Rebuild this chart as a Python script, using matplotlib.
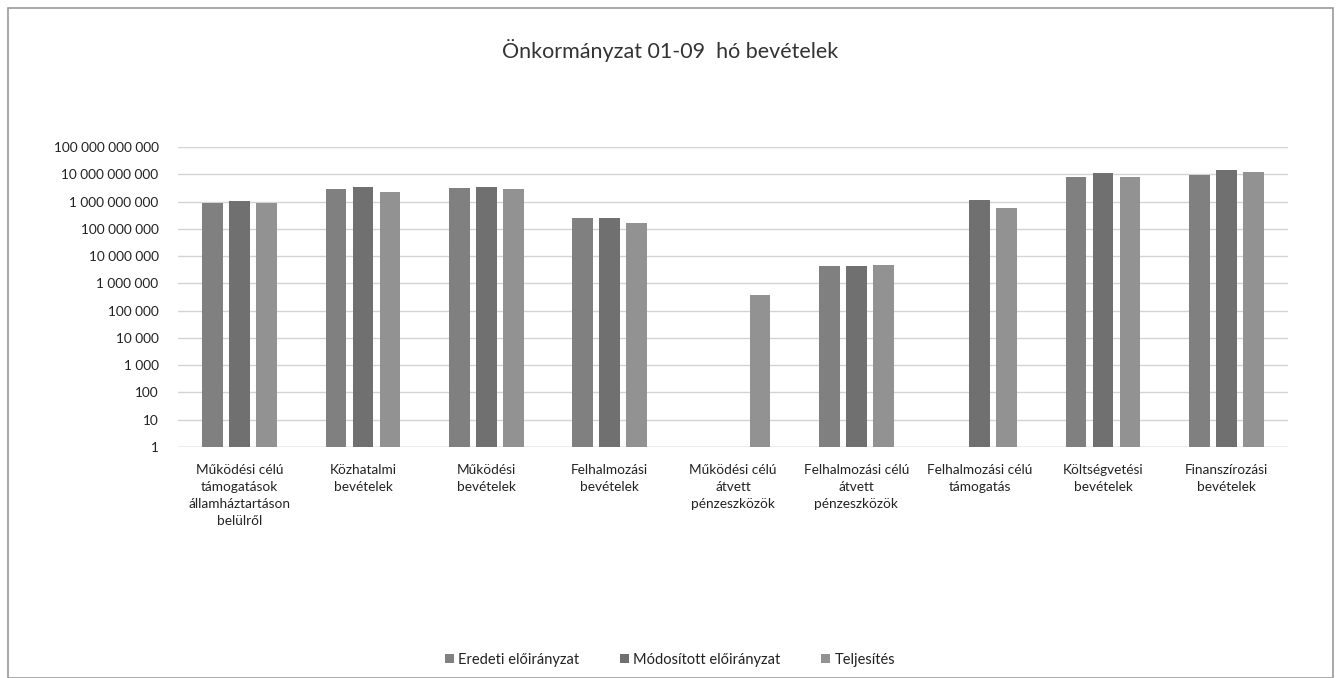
import matplotlib.pyplot as plt
import numpy as np
from matplotlib.patches import Rectangle

plt.rcParams['font.family'] = ['Lato', 'DejaVu Sans']

categories = [
    "Működési célú\ntámogatások\nállamháztartáson\nbelülről",
    "Közhatalmi\nbevételek",
    "Működési\nbevételek",
    "Felhalmozási\nbevételek",
    "Működési célú\nátvett\npénzeszközök",
    "Felhalmozási célú\nátvett\npénzeszközök",
    "Felhalmozási célú\ntámogatás",
    "Költségvetési\nbevételek",
    "Finanszírozási\nbevételek",
]
series_names = ["Eredeti előirányzat", "Módosított előirányzat", "Teljesítés"]
eredeti = [0.87e9, 2.8e9, 3.1e9, 2.5e8, np.nan, 4.3e6, np.nan, 7.8e9, 9.8e9]
modositott = [1.03e9, 3.4e9, 3.3e9, 2.5e8, np.nan, 4.3e6, 1.1e9, 1.1e10, 1.45e10]
teljesites = [0.87e9, 2.3e9, 2.9e9, 1.6e8, 3.8e5, 4.8e6, 5.6e8, 7.8e9, 1.26e10]
colors = ["#808080", "#707070", "#929292"]

fig = plt.figure(figsize=(13.4, 6.78), dpi=100)
fig.patches.append(Rectangle((8 / 1340, 0), 1325 / 1340, 670 / 678, transform=fig.transFigure,
                             fill=False, edgecolor="#9a9a9a", linewidth=1.2))

ax = fig.add_axes([178 / 1340, 1 - 447 / 678, 1110 / 1340, 300 / 678])
x = np.arange(len(categories))
for i, (vals, c, name) in enumerate(zip([eredeti, modositott, teljesites], colors, series_names)):
    ax.bar(x + (i - 1) * 0.22, vals, width=0.168, color=c, label=name, zorder=3)

ax.set_yscale("log")
ax.set_ylim(1, 1e11)
ax.set_xlim(-0.5, len(categories) - 0.5)
yt = [10 ** k for k in range(12)]
ax.set_yticks(yt)
ax.set_yticklabels([f"{v:,}".replace(",", " ") for v in yt], fontsize=9.8, color="#222222")
ax.yaxis.set_minor_locator(plt.NullLocator())
ax.set_xticks(x)
ax.set_xticklabels(categories, fontsize=9.8, color="#222222", linespacing=1.5, va="top")
ax.tick_params(axis="both", length=0)
ax.tick_params(axis="x", pad=12)
ax.tick_params(axis="y", pad=14)
ax.grid(axis="y", color="#d4d4d4", linewidth=1, zorder=0)
for s in ax.spines.values():
    s.set_visible(False)
ax.axhline(1, color="#cccccc", linewidth=1, zorder=2)

fig.text(0.5, 1 - 50 / 678, "Önkormányzat 01-09  hó bevételek", ha="center", va="center",
         fontsize=15.5, color="#333333")
fig.legend(loc="center", bbox_to_anchor=(0.5, 1 - 660 / 678), ncol=3, frameon=False,
           fontsize=10.5, labelcolor="#222222", handlelength=0.6, handleheight=0.6,
           handletextpad=0.3, columnspacing=2.8)

fig.savefig("out.png", dpi=100, facecolor="white")
